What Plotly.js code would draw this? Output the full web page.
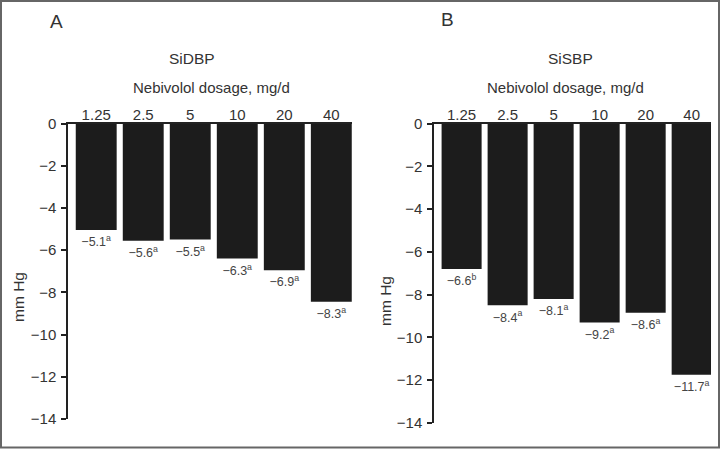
<!DOCTYPE html>
<html>
<head>
<meta charset="utf-8">
<script src="https://cdn.plot.ly/plotly-3.0.1.min.js"></script>
<style>html,body{margin:0;padding:0;background:#fff;}#chart{width:720px;height:449px;}</style>
</head>
<body>
<div id="chart"></div>
<script>
// ---- data ----
var dosages = ['1.25', '2.5', '5', '10', '20', '40'];

// Panel A: SiDBP
var dbpBars = [-5.05, -5.55, -5.5, -6.4, -6.95, -8.45];
var dbpReported = ['5.1', '5.6', '5.5', '6.3', '6.9', '8.3'];
var dbpSig = ['a', 'a', 'a', 'a', 'a', 'a'];

// Panel B: SiSBP
var sbpBars = [-6.8, -8.5, -8.2, -9.3, -8.85, -11.75];
var sbpReported = ['6.6', '8.4', '8.1', '9.2', '8.6', '11.7'];
var sbpSig = ['b', 'a', 'a', 'a', 'a', 'a'];

var yTicks = [0, -2, -4, -6, -8, -10, -12, -14];

function labels(vals, sig) {
  return vals.map(function (v, i) { return '\u2212' + v + '<sup>' + sig[i] + '</sup>'; });
}

var W = 720, H = 449;
function px(x) { return x / W; }
function py(y) { return 1 - y / H; }

var FONT = 'Liberation Sans, Arial, Helvetica, sans-serif';
var barColor = '#1c1c1c';

var traceA = {
  type: 'bar', x: dosages, y: dbpBars, xaxis: 'x', yaxis: 'y',
  marker: { color: barColor, line: { width: 0 } },
  text: labels(dbpReported, dbpSig), textposition: 'outside', cliponaxis: false,
  textfont: { family: FONT, size: 12.5, color: '#444' }, hoverinfo: 'none'
};
var traceB = {
  type: 'bar', x: dosages, y: sbpBars, xaxis: 'x2', yaxis: 'y2',
  marker: { color: barColor, line: { width: 0 } },
  text: labels(sbpReported, sbpSig), textposition: 'outside', cliponaxis: false,
  textfont: { family: FONT, size: 12.5, color: '#444' }, hoverinfo: 'none'
};

function xAxis(domain, range, anchor) {
  return {
    domain: domain, range: range, type: 'category', side: 'top', anchor: anchor,
    showline: true, linecolor: '#222', linewidth: 1.5, ticks: '', showgrid: false,
    zeroline: false, tickfont: { family: FONT, size: 15, color: '#333' },
    ticklabelstandoff: -4, fixedrange: true
  };
}
function yAxis(domain, anchor) {
  return {
    domain: domain, range: [-14, 0], anchor: anchor, tickvals: yTicks,
    showline: true, linecolor: '#222', linewidth: 1.5, ticks: 'outside', ticklen: 5,
    tickcolor: '#222', tickwidth: 1.5, showgrid: false, zeroline: false,
    tickfont: { family: FONT, size: 15, color: '#333' }, ticklabelstandoff: 2,
    fixedrange: true
  };
}

function ann(text, x, y, size, extra) {
  var a = { text: text, x: px(x), y: py(y), xref: 'paper', yref: 'paper', showarrow: false,
    xanchor: 'center', yanchor: 'middle', font: { family: FONT, size: size, color: '#333' } };
  for (var k in extra) a[k] = extra[k];
  return a;
}

var layout = {
  width: W, height: H,
  margin: { l: 0, r: 0, t: 0, b: 0 },
  paper_bgcolor: '#fff', plot_bgcolor: '#fff',
  showlegend: false, bargap: 0.13,
  xaxis: xAxis([px(68), px(352)], [-0.6, 5.44], 'y'),
  yaxis: yAxis([py(419), py(123.5)], 'x'),
  xaxis2: xAxis([px(434), px(711)], [-0.6, 5.42], 'y2'),
  yaxis2: yAxis([py(423), py(123.5)], 'x2'),
  annotations: [
    ann('A', 56, 21, 19),
    ann('SiDBP', 192, 58, 15.5),
    ann('Nebivolol dosage, mg/d', 211, 88, 15),
    ann('mm Hg', 18, 297, 15.5, { textangle: -90 }),
    ann('B', 447, 20, 19),
    ann('SiSBP', 570, 58, 15.5),
    ann('Nebivolol dosage, mg/d', 565, 88, 15),
    ann('mm Hg', 385, 301, 15.5, { textangle: -90 })
  ],
  shapes: [
    { type: 'rect', xref: 'paper', yref: 'paper', x0: px(1), x1: px(719), y0: py(447.5), y1: py(1),
      line: { color: '#666', width: 2 } }
  ]
};

Plotly.newPlot('chart', [traceA, traceB], layout, { displayModeBar: false });
</script>
</body>
</html>
